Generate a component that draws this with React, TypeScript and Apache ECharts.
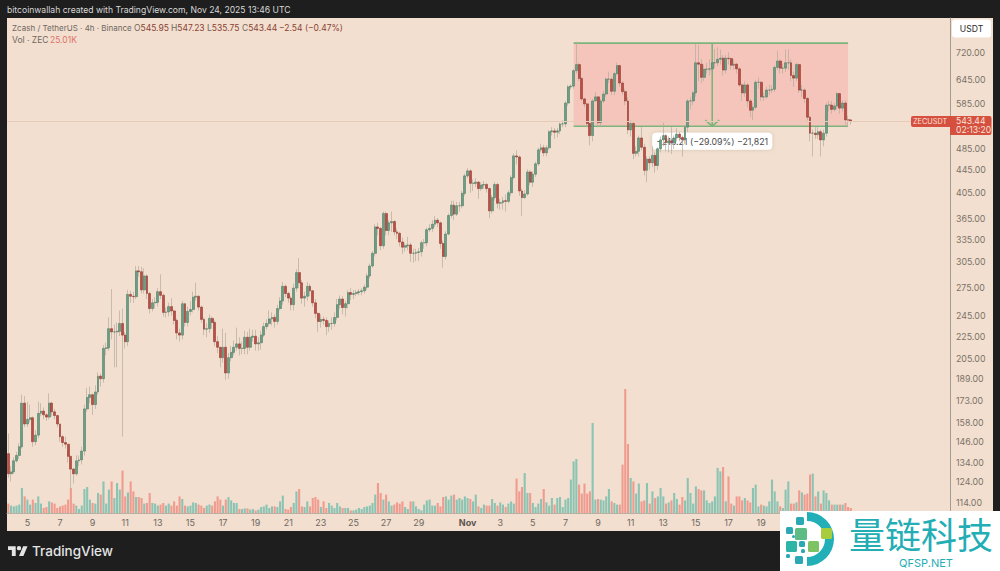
import React, { useEffect, useRef } from 'react';
import * as echarts from 'echarts';

// Zcash / TetherUS 4h candles (first candle Oct 3 20:00)
const opens = [
  139,128,129,135,138,143,171,157,160,161,
  146,150,164,165.5,163,161.5,171,165,162.5,157,
  149,145.5,144.5,137.5,130.5,128,135,135.5,140.5,167,
  175,177,170,179,191,189,214,214.5,232,229,
  229,229.5,237,226,220,267,265,264.5,294,293,
  272,288,268,252,258,258.5,270,266,248,248.5,
  254,249.5,240,228,226,257,238,249,251,264,
  265,253.5,241,231.5,232,242,238,220,215,206,
  215,193.5,206,210.5,215,218,214,214,224,215,
  224,225,218,219,226,234,237,241.5,243,239,
  252,260,276,268,263,256,274,292,280,263,
  265,276,271,258,247,239,241,240,234,237,
  237,243,256,262,253,257,269,267,268,269,
  270,271,275,288,300,316,352,350,326,372,
  347,358,360,345,343,331,324,326,327,316,
  316,317,318,330,330,348,350,356,362,358,
  329,312,342,369,385,371,384,384,404,434,
  443,421,421,423,412,418,419,412,376,397,
  419,388,389,392,391,405,431,471,469,408,
  397,403,441,423,437,456,483,487,477,487,
  520,522,519,522,537,537,585,625,627,668,
  685,647,595,583,538,512,590,600,540,590,
  607,645,645,614,660,682,635,613,590,524,
  538,476,480,507,488,444,465,458,472,453,
  485,503,512,497,501,497,507,515,508,503,
  530,590,590,610,690,686,650,672,672,673,
  690,690,700,703,670,703,702,683,686,673,
  630,610,630,590,568,575,637,637,600,600,
  617,617,619,677,695,675,675,690,690,655,
  648,685,617,617,596,552,517,517,514,520,
  503,517,580,580,570,578,608,573,585,546,
  545.95,
];
const closes = [
  128,129,135,138,143,171,157,160,161,146,
  150,164,165.5,163,161.5,171,165,162.5,157,149,
  145.5,144.5,137.5,130.5,128,135,135.5,140.5,167,175,
  177,170,179,191,189,214,214.5,232,229,229,
  229.5,237,226,220,267,265,264.5,294,293,272,
  288,268,252,258,258.5,270,266,248,248.5,254,
  249.5,240,228,226,257,238,249,251,264,265,
  253.5,241,231.5,232,242,238,220,215,206,215,
  193.5,206,210.5,215,218,214,214,224,215,224,
  225,218,219,226,234,237,241.5,243,239,252,
  260,276,268,263,256,274,292,280,263,265,
  276,271,258,247,239,241,240,234,237,237,
  243,256,262,253,257,269,267,268,269,270,
  271,275,288,300,316,352,350,326,372,347,
  358,360,345,343,331,324,326,327,316,316,
  317,318,330,330,348,350,356,362,358,329,
  312,342,369,385,371,384,384,404,434,443,
  421,421,423,412,418,419,412,376,397,419,
  388,389,392,391,405,431,471,469,408,397,
  403,441,423,437,456,483,487,477,487,520,
  522,519,522,537,537,585,625,627,668,685,
  647,595,583,538,512,590,600,540,590,607,
  645,645,614,660,682,635,613,590,524,538,
  476,480,507,488,444,465,458,472,453,485,
  503,512,497,501,497,507,515,508,503,530,
  590,590,610,690,686,650,672,672,673,690,
  690,700,703,670,703,702,683,686,673,630,
  610,630,590,568,575,637,637,600,600,617,
  617,619,677,695,675,675,690,690,655,648,
  685,617,617,596,552,517,517,514,520,503,
  517,580,580,570,578,608,573,585,546,545.95,
  543.44,
];
const highs = [
  151,132,137,140,145,177,176,172,170,162,
  153,172,171,168,164,178,172,167,163,153,
  150,149,141,134,131,138,138,143,170,182,
  183,178,184,194,193,217,219,243,273,236,
  238,250,252,229,272,271,270,300,300,299,
  297,290,270,262,264,274,290,268,253,258,
  263,251,242,232,260,258,254,260,270,280,
  266,255,243,237,246,244,240,225,215,232,
  228,210,216,221,233,224,220,230,229,232,
  231,231,224,230,238,241,250,248,246,256,
  264,281,278,270,265,279,296,310,283,270,
  281,279,272,262,248,246,244,243,240,243,
  248,262,266,265,260,272,274,272,272,273,
  274,278,291,303,319,356,358,352,375,375,
  362,375,362,350,345,337,330,338,330,322,
  322,323,333,335,351,356,362,368,365,360,
  333,346,372,392,392,390,390,408,438,448,
  446,428,430,425,423,425,422,414,401,423,
  422,395,398,402,409,435,476,482,472,412,
  409,446,444,442,460,487,495,493,492,524,
  530,528,528,540,545,590,630,632,672,752,
  690,650,598,585,540,595,612,602,595,615,
  650,665,650,665,690,685,640,620,600,545,
  542,490,512,530,495,470,470,490,478,488,
  510,540,515,510,530,512,528,520,512,535,
  595,600,615,745,742,700,685,690,700,700,
  730,735,728,712,712,720,705,700,690,678,
  635,640,635,595,585,642,650,640,610,625,
  630,630,682,725,700,688,728,730,700,665,
  690,688,630,622,600,555,525,530,530,525,
  525,585,590,590,585,612,610,592,592,555,
  547.23,
];
const lows = [
  126,124,128,134,136,142,155,155,158,143,
  144,148,162,160,159,160,162,160,155,146,
  143,142,134,120,123,127,132,133,138,165,
  171,163,167,177,183,186,208,212,222,198,
  198,225,149,214,216,258,258,262,287,268,
  268,262,247,249,252,254,262,244,243,244,
  245,236,222,220,222,234,234,245,248,260,
  250,238,226,224,228,232,216,210,198,202,
  188,189,203,208,212,208,209,209,209,212,
  220,212,212,213,224,231,234,235,233,236,
  250,256,264,258,250,250,270,274,257,254,
  260,265,254,242,229,233,236,226,229,231,
  234,240,252,246,244,252,261,262,265,266,
  266,268,272,285,298,312,340,320,322,340,
  340,345,340,335,325,315,318,320,305,304,
  306,306,312,322,325,345,345,352,352,322,
  298,308,340,365,362,368,375,380,400,430,
  405,408,415,395,408,412,405,365,372,392,
  380,378,378,375,388,400,428,455,400,368,
  395,400,418,415,432,452,478,470,470,483,
  512,505,508,515,530,530,578,618,620,660,
  640,590,575,530,492,500,590,530,530,585,
  600,635,605,605,655,625,605,580,515,510,
  465,470,470,482,435,423,445,450,440,445,
  478,490,480,478,475,485,500,500,470,495,
  520,570,580,600,640,635,640,660,655,665,
  675,680,685,655,660,685,670,670,660,625,
  590,600,575,552,546,570,620,590,590,595,
  605,610,612,670,660,660,665,670,640,625,
  640,610,600,585,545,500,470,505,505,470,
  490,510,565,560,565,570,560,565,535,530,
  535.75,
];
// volume in thousands of ZEC
const volumes = [
  47,37,33,37,42,125,83,67,42,67,
  50,83,47,25,30,58,53,47,25,33,
  37,42,67,125,47,37,20,37,120,130,
  67,50,47,100,92,158,47,117,158,75,
  150,117,212,83,103,158,108,80,80,75,
  47,50,100,50,47,37,42,50,37,47,
  37,58,37,83,70,37,33,37,53,50,
  42,37,25,37,42,37,58,83,67,37,
  67,80,63,50,50,20,20,23,23,17,
  20,13,17,30,33,42,25,33,33,30,
  58,87,20,17,30,50,108,120,33,30,
  58,33,75,80,67,30,58,25,50,37,
  25,50,33,25,25,25,13,13,17,25,
  20,30,33,37,50,92,150,100,67,92,
  58,37,42,53,47,58,30,20,58,58,
  33,20,13,42,63,67,37,37,50,33,
  80,83,67,87,92,67,75,67,83,75,
  70,58,92,33,25,42,37,37,70,50,
  37,53,42,30,47,58,47,172,108,130,
  200,100,100,50,30,47,70,120,53,37,
  75,42,75,80,30,67,75,167,258,270,
  142,97,147,97,108,450,67,70,67,63,
  83,120,58,50,42,42,242,620,345,175,
  158,97,147,58,63,150,47,108,75,83,
  125,83,47,53,63,100,70,42,80,63,
  175,100,47,133,120,113,113,63,50,58,
  83,225,208,230,58,183,47,37,83,83,
  63,75,63,53,125,142,33,42,37,33,
  58,167,108,58,33,25,117,158,47,47,
  53,113,103,92,97,192,197,83,108,47,
  113,100,63,42,42,42,42,42,50,30,
  25.01,
];

const priceTicks = [114, 124, 134, 146, 158, 173, 189, 205, 225, 245, 275, 305, 335, 365, 405, 445, 485, 585, 645, 720];
const dayTickIndexes = [7, 19, 31, 43, 55, 67, 79, 91, 103, 115, 127, 139, 151, 169, 181, 193, 205, 217, 229, 241, 253, 265, 277, 289, 301];
const dayTickLabels = ['5', '7', '9', '11', '13', '15', '17', '19', '21', '23', '25', '27', '29', 'Nov', '3', '5', '7', '9', '11', '13', '15', '17', '19', '21', '23'];
const BAR_SLOTS = 347; // the empty slots on the right are the chart's future space

const lastPrice = 543.44;
const rangeTop = 748;
const rangeBottom = 532;
const rangeStart = 208;
const rangeEnd = 309;
const arrowAt = 259;
const pillPrice = 500;

const categories = Array.from({ length: BAR_SLOTS }, (_, i) => {
  const k = dayTickIndexes.indexOf(i);
  return k >= 0 ? dayTickLabels[k] : `c${i}`;
});

const GREEN = '#6c9e84';
const GREEN_DARK = '#4f7f68';
const RED = '#bb4f45';
const RED_DARK = '#96392f';
const LINE_GREEN = '#7cb57c';

const TEXT_FONT = 'Inter';

// TradingView mark
echarts.graphic.registerShape(
  'tvMark',
  echarts.graphic.extendPath('M14 22H7V11H0V4h14zM28 22h-8l7.5-18h8zM24 7.5a4 4 0 1 1-8 0a4 4 0 1 1 8 0z', {}) as any,
);

function drawRange(params: any, api: any) {
  const tl = api.coord([rangeStart, rangeTop]);
  const br = api.coord([rangeEnd, rangeBottom]);
  const ax = api.coord([arrowAt, rangeTop])[0];
  const pillY = api.coord([arrowAt, pillPrice])[1];
  const lineStyle = { stroke: LINE_GREEN, lineWidth: 1.6, fill: 'none' };
  return {
    type: 'group',
    children: [
      { type: 'rect', shape: { x: tl[0], y: tl[1], width: br[0] - tl[0], height: br[1] - tl[1] }, style: { fill: '#f5c4ba' } },
      { type: 'line', shape: { x1: tl[0], y1: tl[1], x2: br[0], y2: tl[1] }, style: lineStyle },
      { type: 'line', shape: { x1: tl[0], y1: br[1], x2: br[0], y2: br[1] }, style: lineStyle },
      { type: 'line', shape: { x1: ax, y1: tl[1], x2: ax, y2: br[1] }, style: lineStyle },
      { type: 'polyline', shape: { points: [[ax - 7, br[1] - 6], [ax, br[1]], [ax + 7, br[1] - 6]] }, style: lineStyle },
      {
        type: 'rect',
        shape: { x: ax - 60, y: pillY - 8.5, width: 120, height: 17, r: 4 },
        style: { fill: '#ffffff', shadowBlur: 4, shadowColor: 'rgba(0,0,0,0.12)' },
      },
      {
        type: 'text',
        style: {
          x: ax,
          y: pillY,
          text: '\u2212216.21 (\u221229.09%) \u221221,821',
          fill: '#4a4a4a',
          font: `8.8px ${TEXT_FONT}`,
          align: 'center',
          verticalAlign: 'middle',
        },
      },
    ],
  };
}

function legendText(x: number, y: number, text: string, fill: string, size = 8.5) {
  return { type: 'text', x, y, z: 20, style: { text, fill, font: `${size}px ${TEXT_FONT}`, verticalAlign: 'middle' } };
}

function ohlcLabel(x: number, key: string, value: string) {
  return {
    type: 'text',
    x,
    y: 28,
    z: 20,
    style: {
      text: `{k|${key}}{v|${value}}`,
      verticalAlign: 'middle',
      rich: {
        k: { fill: '#6f675f', font: `8.5px ${TEXT_FONT}` },
        v: { fill: '#8a3f35', font: `8.5px ${TEXT_FONT}` },
      },
    },
  };
}

function squares() {
  // [x, y, size, colour] of the watermark's tiles
  const tiles: [number, number, number, string][] = [
    [796, 517, 8, '#2aa9b5'],
    [786, 527, 7, '#2aa9b5'],
    [795, 528, 12, '#5dbb85'],
    [821, 528, 11, '#a7cd3f'],
    [786, 541, 11, '#2fb5a7'],
    [799, 541, 6, '#2aa9b5'],
    [808, 541, 11, '#7cc364'],
    [795, 556, 8, '#2aa9b5'],
    [786, 554, 4, '#2aa9b5'],
    [801, 549, 4, '#2aa9b5'],
    [792, 535, 3, '#2aa9b5'],
  ];
  return tiles.map(([x, y, s, c]) => ({
    type: 'rect',
    z: 31,
    shape: { x, y, width: s, height: s, r: 1.5 },
    style: { fill: c },
  }));
}

function App() {
  const chartRef = useRef<HTMLDivElement | null>(null);

  useEffect(() => {
    if (!chartRef.current) return undefined;

    const option = {
      animation: false,
      backgroundColor: '#1e1e1e',
      textStyle: { fontFamily: TEXT_FONT },
      grid: { left: 7, right: 50, top: 18, bottom: 58 },
      xAxis: {
        type: 'category',
        data: categories,
        boundaryGap: true,
        axisLine: { lineStyle: { color: '#b9b0a4', width: 1 } },
        axisTick: { show: false },
        splitLine: { show: false },
        axisLabel: {
          interval: (i: number) => dayTickIndexes.includes(i),
          formatter: (v: string) => (v === 'Nov' ? '{b|Nov}' : v),
          color: '#6f675f',
          fontSize: 9,
          margin: 5,
          hideOverlap: false,
          rich: { b: { fontWeight: 'bold', color: '#5d564f', fontSize: 9 } },
        },
      },
      yAxis: [
        {
          type: 'log',
          logBase: 10,
          position: 'right',
          min: 109,
          max: 829,
          splitLine: { show: false },
          axisLine: { show: true, lineStyle: { color: '#a59c90' } },
          axisTick: { show: false, customValues: priceTicks },
          axisLabel: {
            customValues: priceTicks,
            formatter: (v: number) => v.toFixed(2),
            color: '#7a7269',
            fontSize: 8.8,
            margin: 6,
          },
        },
        { type: 'value', min: 0, max: 2475, show: false, splitLine: { show: false } },
      ],
      series: [
        {
          type: 'custom',
          name: 'range',
          z: 1,
          silent: true,
          clip: false,
          data: [[rangeStart, rangeTop]],
          renderItem: drawRange,
        },
        {
          type: 'bar',
          name: 'Vol',
          yAxisIndex: 1,
          z: 2,
          barWidth: 2.1,
          data: volumes.map((v, i) => ({
            value: v,
            itemStyle: { color: closes[i] >= opens[i] ? '#8cc4b4' : '#f09b8f' },
          })),
        },
        {
          type: 'candlestick',
          name: 'wicks',
          z: 3,
          barWidth: 1,
          itemStyle: { color: '#bdb4a8', color0: '#bdb4a8', borderColor: '#b5ac9f', borderColor0: '#b5ac9f', borderWidth: 0.7 },
          data: opens.map((o, i) => [o, closes[i], lows[i], highs[i]]),
          markLine: {
            silent: true,
            symbol: 'none',
            label: { show: false },
            lineStyle: { color: '#e6cbb8', type: 'solid', width: 1 },
            data: [{ yAxis: lastPrice }],
          },
        },
        {
          type: 'candlestick',
          name: 'ZECUSDT',
          z: 4,
          barWidth: 2.4,
          itemStyle: { color: GREEN, color0: RED, borderColor: GREEN_DARK, borderColor0: RED_DARK, borderWidth: 0.6 },
          data: opens.map((o, i) => [o, closes[i], Math.min(o, closes[i]), Math.max(o, closes[i])]),
        },
      ],
      graphic: [
        { type: 'rect', z: -10, shape: { x: 7, y: 18, width: 986, height: 513 }, style: { fill: '#f2dfcf' } },
        legendText(7, 10, 'bitcoinwallah created with TradingView.com, Nov 24, 2025 13:46 UTC', '#d8d8d8', 8.6),
        legendText(12, 28, 'Zcash / TetherUS \u00b7 4h \u00b7 Binance', '#6f675f', 8),
        ohlcLabel(134, 'O', '545.95'),
        ohlcLabel(171, 'H', '547.23'),
        ohlcLabel(207, 'L', '535.75'),
        ohlcLabel(242, 'C', '543.44'),
        legendText(279, 28, '\u22122.54 (\u22120.47%)', '#8a3f35'),
        legendText(12, 40, 'Vol \u00b7 ZEC', '#6f675f'),
        legendText(50, 40, '25.01K', '#e0736a'),
        // USDT button
        { type: 'rect', z: 20, shape: { x: 952, y: 19.5, width: 39, height: 18, r: 3 }, style: { fill: '#ffffff' } },
        { type: 'text', z: 21, x: 971.5, y: 28.5, style: { text: 'USDT', fill: '#2c2c2c', font: `8.6px ${TEXT_FONT}`, align: 'center', verticalAlign: 'middle' } },
        // last price tags
        { type: 'rect', z: 20, shape: { x: 911, y: 116, width: 39, height: 11, r: [2, 0, 0, 2] }, style: { fill: '#d6503f' } },
        { type: 'rect', z: 20, shape: { x: 950, y: 116, width: 41.5, height: 19, r: [0, 2, 2, 0] }, style: { fill: '#d6503f' } },
        { type: 'text', z: 21, x: 913, y: 121.5, style: { text: 'ZECUSDT', fill: '#f7e3da', font: `7.3px ${TEXT_FONT}`, verticalAlign: 'middle' } },
        { type: 'text', z: 21, x: 956, y: 121, style: { text: lastPrice.toFixed(2), fill: '#f7e3da', font: `8.6px ${TEXT_FONT}`, verticalAlign: 'middle' } },
        { type: 'text', z: 21, x: 956, y: 130, style: { text: '02:13:20', fill: '#f7e3da', font: `8.6px ${TEXT_FONT}`, verticalAlign: 'middle' } },
        // TradingView signature
        { type: 'tvMark', z: 20, x: 8, y: 544, scaleX: 0.55, scaleY: 0.55, style: { fill: '#e4e4e4' } },
        { type: 'text', z: 20, x: 32, y: 551, style: { text: 'TradingView', fill: '#e4e4e4', font: `500 13.5px ${TEXT_FONT}`, verticalAlign: 'middle' } },
        // watermark
        { type: 'rect', z: 30, shape: { x: 780, y: 511, width: 220, height: 60 }, style: { fill: '#ffffff' } },
        {
          type: 'sector',
          z: 31,
          shape: { cx: 807, cy: 539, r: 27, r0: 18, startAngle: -Math.PI / 2, endAngle: Math.PI / 2 },
          style: { fill: '#22afb8' },
        },
        ...squares(),
        { type: 'text', z: 31, x: 921, y: 533, style: { text: '\u91cf\u94fe\u79d1\u6280', fill: '#23adb5', font: `36px "Noto Sans CJK SC"`, align: 'center', verticalAlign: 'middle' } },
        { type: 'text', z: 31, x: 926, y: 563, style: { text: 'QFSP.NET', fill: '#23adb5', font: `11px ${TEXT_FONT}`, align: 'center', verticalAlign: 'middle' } },
      ],
    };

    const myChart = echarts.init(chartRef.current, undefined, { renderer: 'svg' });
    myChart.setOption(option as any);

    return () => {
      myChart.dispose();
    };
  }, []);

  return <div ref={chartRef} style={{ position: 'fixed', left: 0, top: 0, width: 1000, height: 571 }} />;
}

export default App;
